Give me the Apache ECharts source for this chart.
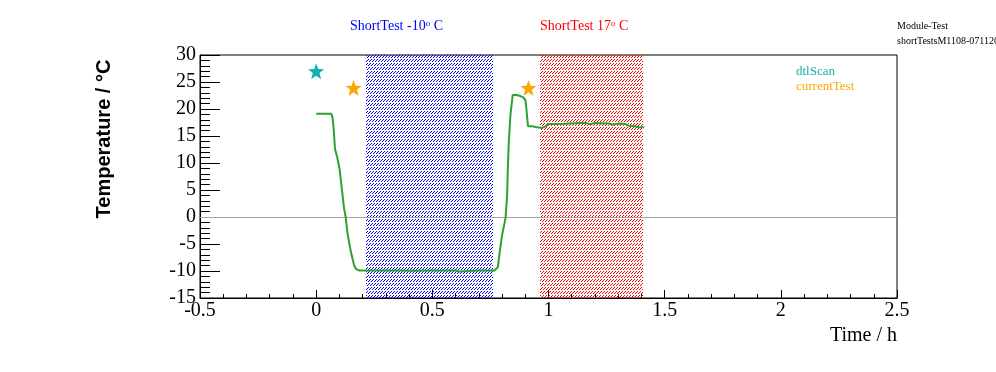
<!DOCTYPE html>
<html>
<head>
<meta charset="utf-8">
<script src="https://cdn.jsdelivr.net/npm/echarts@6/dist/echarts.min.js"></script>
<style>html,body{margin:0;padding:0;background:#fff;}#c{width:996px;height:372px;}</style>
</head>
<body>
<div id="c"></div>
<script>
// ---- data ----
const timeH = [0, 0.065, 0.070, 0.075, 0.081, 0.091, 0.101, 0.110, 0.120, 0.127, 0.134, 0.144, 0.153, 0.163, 0.171, 0.184, 0.25, 0.335, 0.342, 0.35, 0.42, 0.5, 0.505, 0.51, 0.6, 0.613, 0.62, 0.70, 0.767, 0.782, 0.79, 0.80, 0.815, 0.822, 0.825, 0.829, 0.836, 0.846, 0.862, 0.879, 0.893, 0.901, 0.904, 0.908, 0.912, 0.93, 0.951, 0.972, 0.986, 1.001, 1.065, 1.137, 1.160, 1.180, 1.199, 1.262, 1.275, 1.302, 1.330, 1.344, 1.372, 1.393, 1.412];
const tempC = [19.1, 19.1, 18.5, 16.5, 12.6, 11.0, 8.8, 5.4, 1.6, 0, -2.7, -5.3, -7.1, -8.9, -9.6, -9.9, -9.9, -9.9, -10.1, -9.9, -9.95, -9.9, -10.05, -9.9, -9.9, -10.1, -9.9, -9.9, -9.9, -9.3, -6.5, -3.4, -0.2, 4.1, 9.1, 13.8, 18.8, 22.6, 22.6, 22.4, 22.1, 21.6, 20.4, 18.5, 16.8, 16.8, 16.6, 16.5, 16.8, 17.2, 17.25, 17.4, 17.4, 17.2, 17.4, 17.3, 17.1, 17.3, 17.25, 16.9, 16.8, 16.6, 16.6];
const dtlScanT = [0];
const dtlScanV = [27];
const currentTestT = [0.161, 0.914];
const currentTestV = [23.9, 23.9];
const bandStart = [0.213, 0.964];
const bandEnd = [0.759, 1.408];
const xTicks = [-0.5, 0, 0.5, 1, 1.5, 2, 2.5];
const yTicks = [-15, -10, -5, 0, 5, 10, 15, 20, 25, 30];

// ---- styling ----
const serif = 'Liberation Serif';
const teal = '#13b0b0';
const orange = '#ffa500';
const green = '#2ea02e';
const bandColorNames = ['#0000ff', '#ff0000'];
const starPath = 'path://M50,0 L62,34 L98,36 L70,58 L80,94 L50,73 L20,94 L30,58 L2,36 L38,34 Z';

const chart = echarts.init(document.getElementById('c'), null, { renderer: 'canvas' });

chart.setOption({
  animation: false,
  backgroundColor: '#fff',
  grid: { left: 200, right: 99, top: 55, bottom: 74, show: true, borderColor: '#000', borderWidth: 1, backgroundColor: 'transparent' },
  xAxis: {
    type: 'value', min: xTicks[0], max: xTicks[xTicks.length - 1], interval: 0.5,
    axisLine: { show: true, onZero: false, lineStyle: { color: '#000', width: 1 } },
    axisTick: { show: true, inside: true, length: 8, lineStyle: { color: '#000' } },
    minorTick: { show: true, splitNumber: 5, length: 4, lineStyle: { color: '#000' } },
    splitLine: { show: false },
    axisLabel: { color: '#000', fontFamily: serif, fontSize: 20, margin: 3,
      formatter: v => String(v) }
  },
  yAxis: {
    type: 'value', min: yTicks[0], max: yTicks[yTicks.length - 1], interval: 5,
    axisLine: { show: true, onZero: false, lineStyle: { color: '#000', width: 1 } },
    axisTick: { show: true, inside: true, length: 20, lineStyle: { color: '#000' } },
    minorTick: { show: true, splitNumber: 5, length: 10, lineStyle: { color: '#000' } },
    splitLine: { show: false },
    axisLabel: { color: '#000', fontFamily: serif, fontSize: 20, margin: 4 }
  },
  legend: {
    orient: 'vertical', left: 786, top: 60, itemWidth: 0, itemHeight: 0, itemGap: 2,
    textStyle: { fontFamily: serif, fontSize: 13 },
    data: [
      { name: 'dtlScan', icon: 'none', textStyle: { color: teal } },
      { name: 'currentTest', icon: 'none', textStyle: { color: orange } }
    ],
    selectedMode: false
  },
  series: [
    {
      name: 'bands', type: 'custom', silent: true, z: 1,
      data: bandStart.map((s, i) => [s, bandEnd[i], i]),
      renderItem: function (params, api) {
        const idx = api.value(2);
        const p0 = api.coord([api.value(0), yTicks[yTicks.length - 1]]);
        const p1 = api.coord([api.value(1), yTicks[0]]);
        const x0 = Math.round(p0[0]), x1 = Math.round(p1[0]);
        const y0 = Math.round(p0[1]), y1 = Math.round(p1[1]);
        const children = [];
        for (let r = 0; y0 + r < y1; r++) {
          if (r % 4 === 3) continue;
          children.push({
            type: 'line',
            shape: { x1: x0, y1: y0 + r + 0.5, x2: x1, y2: y0 + r + 0.5 },
            style: { stroke: bandColorNames[idx], lineWidth: 1, lineDash: [1, 2], lineDashOffset: r % 3, lineCap: 'butt' }
          });
        }
        return { type: 'group', children: children };
      },
      encode: { x: [0, 1] }
    },
    {
      name: 'zero', type: 'line', data: [], silent: true,
      markLine: {
        silent: true, symbol: 'none', label: { show: false },
        lineStyle: { color: '#aaa49c', type: 'solid', width: 1 },
        data: [{ yAxis: 0 }]
      }
    },
    {
      name: 'temperature', type: 'line', showSymbol: false, symbol: 'none',
      data: timeH.map((t, i) => [t, tempC[i]]),
      lineStyle: { color: green, width: 2 }, z: 5
    },
    {
      name: 'dtlScan', type: 'scatter', symbol: starPath, symbolSize: 16,
      itemStyle: { color: teal, opacity: 1 }, z: 6,
      data: dtlScanT.map((t, i) => [t, dtlScanV[i]])
    },
    {
      name: 'currentTest', type: 'scatter', symbol: starPath, symbolSize: 16,
      itemStyle: { color: orange, opacity: 1 }, z: 6,
      data: currentTestT.map((t, i) => [t, currentTestV[i]])
    }
  ],
  graphic: [
    { type: 'text', left: 350, top: 19, style: {
        rich: { a: { fontFamily: serif, fontSize: 14, fill: '#0000ff' }, s: { fontFamily: serif, fontSize: 9, fill: '#0000ff', verticalAlign: 'top', padding: [0,0,6,0] } },
        text: '{a|ShortTest -10}{s|o}{a| C}' } },
    { type: 'text', left: 540, top: 19, style: {
        rich: { a: { fontFamily: serif, fontSize: 14, fill: '#ff0000' }, s: { fontFamily: serif, fontSize: 9, fill: '#ff0000', verticalAlign: 'top', padding: [0,0,6,0] } },
        text: '{a|ShortTest 17}{s|o}{a| C}' } },
    { type: 'text', left: 897, top: 21, style: { text: 'Module-Test', fontFamily: serif, fontSize: 10, fill: '#000' } },
    { type: 'text', left: 897, top: 36, style: { text: 'shortTestsM1108-0711200', fontFamily: serif, fontSize: 10, fill: '#000' } },
    { type: 'text', x: 104, y: 139, rotation: Math.PI / 2, style: { text: 'Temperature / °C', fontFamily: 'Liberation Sans', fontWeight: 'bold', fontSize: 20, fill: '#000', align: 'center', verticalAlign: 'middle' } },
    { type: 'text', x: 897, y: 336, style: { text: 'Time / h', fontFamily: serif, fontSize: 20, fill: '#000', align: 'right', verticalAlign: 'middle' } }
  ]
});
</script>
</body>
</html>
